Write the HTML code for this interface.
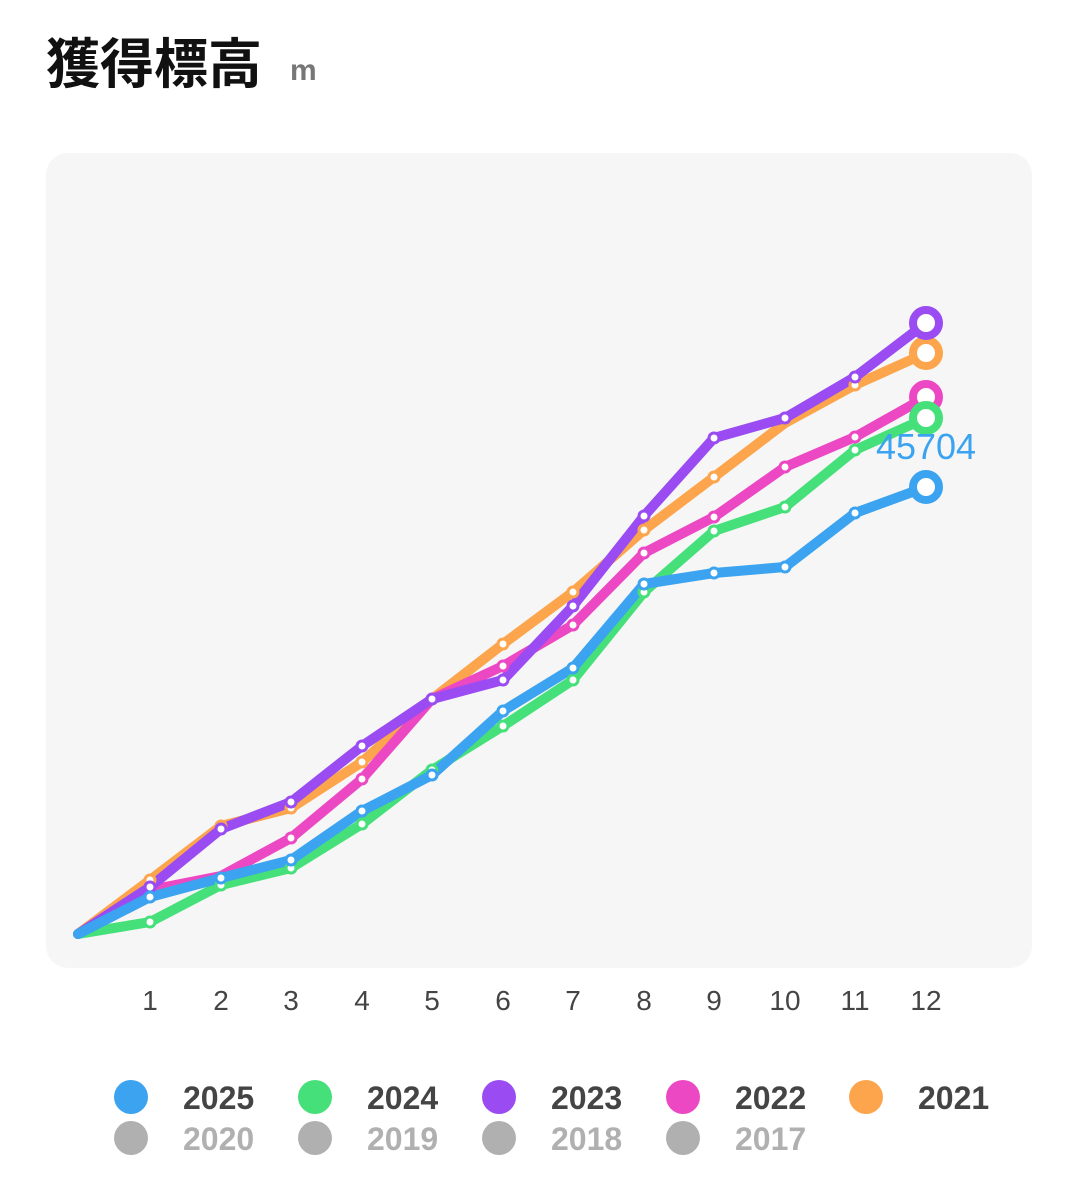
<!DOCTYPE html>
<html><head><meta charset="utf-8"><style>
body{margin:0;background:#fff;width:1079px;height:1202px;overflow:hidden;font-family:"Liberation Sans","Noto Sans CJK JP",sans-serif}
</style></head><body>
<svg width="1079" height="1202" xmlns="http://www.w3.org/2000/svg" style="position:absolute;left:0;top:0">
<text x="46" y="83" font-size="54" font-weight="bold" fill="#111" font-family="Liberation Sans,Noto Sans CJK JP,sans-serif">獲得標高</text>
<text x="290" y="80" font-size="30" font-weight="bold" fill="#777">m</text>
<rect x="46" y="153" width="986" height="815" rx="22" fill="#f6f6f6"/>
<g fill="none" stroke-width="10" stroke-linejoin="round" stroke-linecap="round">
<polyline stroke="#fca54c" points="78,934 150,880 221,826 291,808 362,762 432,699 503,644 573,592 644,530 714,477 785,423 855,385 926,353"/>
<polyline stroke="#ec48c4" points="78,934 150,890 221,876 291,838 362,779 432,699 503,666 573,625 644,553 714,517 785,467 855,437 926,397"/>
<polyline stroke="#9a4cf2" points="78,934 150,887 221,829 291,802 362,746 432,699 503,680 573,606 644,516 714,438 785,418 855,377 926,323"/>
<polyline stroke="#46e07a" points="78,934 150,922 221,885 291,868 362,824 432,770 503,726 573,680 644,592 714,531 785,507 855,450 926,418"/>
<polyline stroke="#3ba3f0" points="78,934 150,897 221,878 291,860 362,811 432,775 503,711 573,668 644,584 714,573 785,567 855,513 926,487"/>
</g>
<g fill="#fff" stroke-width="3">
<g stroke="#fca54c"><circle cx="150" cy="880" r="5"/><circle cx="221" cy="826" r="5"/><circle cx="291" cy="808" r="5"/><circle cx="362" cy="762" r="5"/><circle cx="503" cy="644" r="5"/><circle cx="573" cy="592" r="5"/><circle cx="644" cy="530" r="5"/><circle cx="714" cy="477" r="5"/><circle cx="855" cy="385" r="5"/><circle cx="926" cy="353" r="13" stroke-width="8"/></g>
<g stroke="#ec48c4"><circle cx="291" cy="838" r="5"/><circle cx="362" cy="779" r="5"/><circle cx="503" cy="666" r="5"/><circle cx="573" cy="625" r="5"/><circle cx="644" cy="553" r="5"/><circle cx="714" cy="517" r="5"/><circle cx="785" cy="467" r="5"/><circle cx="855" cy="437" r="5"/><circle cx="926" cy="397" r="13" stroke-width="8"/></g>
<g stroke="#9a4cf2"><circle cx="150" cy="887" r="5"/><circle cx="221" cy="829" r="5"/><circle cx="291" cy="802" r="5"/><circle cx="362" cy="746" r="5"/><circle cx="432" cy="699" r="5"/><circle cx="503" cy="680" r="5"/><circle cx="573" cy="606" r="5"/><circle cx="644" cy="516" r="5"/><circle cx="714" cy="438" r="5"/><circle cx="785" cy="418" r="5"/><circle cx="855" cy="377" r="5"/><circle cx="926" cy="323" r="13" stroke-width="8"/></g>
<g stroke="#46e07a"><circle cx="150" cy="922" r="5"/><circle cx="221" cy="885" r="5"/><circle cx="291" cy="868" r="5"/><circle cx="362" cy="824" r="5"/><circle cx="432" cy="770" r="5"/><circle cx="503" cy="726" r="5"/><circle cx="573" cy="680" r="5"/><circle cx="644" cy="592" r="5"/><circle cx="714" cy="531" r="5"/><circle cx="785" cy="507" r="5"/><circle cx="855" cy="450" r="5"/><circle cx="926" cy="418" r="13" stroke-width="8"/></g>
<g stroke="#3ba3f0"><circle cx="150" cy="897" r="5"/><circle cx="221" cy="878" r="5"/><circle cx="291" cy="860" r="5"/><circle cx="362" cy="811" r="5"/><circle cx="432" cy="775" r="5"/><circle cx="503" cy="711" r="5"/><circle cx="573" cy="668" r="5"/><circle cx="644" cy="584" r="5"/><circle cx="714" cy="573" r="5"/><circle cx="785" cy="567" r="5"/><circle cx="855" cy="513" r="5"/><circle cx="926" cy="487" r="13" stroke-width="8"/></g>
</g>
<text x="926" y="459" font-size="36" fill="#3ba3f0" text-anchor="middle">45704</text>
<g font-size="28" fill="#444" text-anchor="middle">
<text x="150" y="1010">1</text><text x="221" y="1010">2</text><text x="291" y="1010">3</text><text x="362" y="1010">4</text><text x="432" y="1010">5</text><text x="503" y="1010">6</text><text x="573" y="1010">7</text><text x="644" y="1010">8</text><text x="714" y="1010">9</text><text x="785" y="1010">10</text><text x="855" y="1010">11</text><text x="926" y="1010">12</text>
</g>
<g font-size="32" font-weight="bold">
<circle cx="131" cy="1097" r="17" fill="#3ba3f0"/><text x="183" y="1109" fill="#444">2025</text>
<circle cx="315" cy="1097" r="17" fill="#46e07a"/><text x="367" y="1109" fill="#444">2024</text>
<circle cx="499" cy="1097" r="17" fill="#9a4cf2"/><text x="551" y="1109" fill="#444">2023</text>
<circle cx="683" cy="1097" r="17" fill="#ec48c4"/><text x="735" y="1109" fill="#444">2022</text>
<circle cx="866" cy="1097" r="17" fill="#fca54c"/><text x="918" y="1109" fill="#444">2021</text>
<circle cx="131" cy="1138" r="17" fill="#b0b0b0"/><text x="183" y="1150" fill="#b0b0b0">2020</text>
<circle cx="315" cy="1138" r="17" fill="#b0b0b0"/><text x="367" y="1150" fill="#b0b0b0">2019</text>
<circle cx="499" cy="1138" r="17" fill="#b0b0b0"/><text x="551" y="1150" fill="#b0b0b0">2018</text>
<circle cx="683" cy="1138" r="17" fill="#b0b0b0"/><text x="735" y="1150" fill="#b0b0b0">2017</text>
</g>
</svg>
</body></html>
